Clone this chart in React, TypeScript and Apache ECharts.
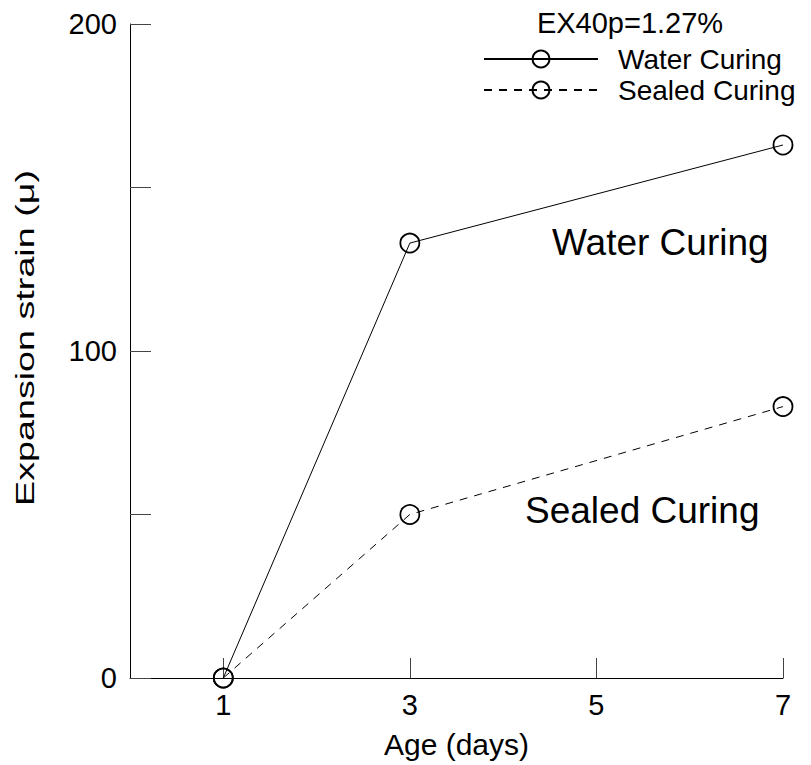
import React, { useEffect, useRef } from "react";
import * as echarts from "echarts";

const ages = [1, 3, 7];
const waterCuring = [0, 133, 163];
const sealedCuring = [0, 50, 83];
const xTickValues = [1, 3, 5, 7];
const yLabelValues = [0, 100, 200];
const seriesNames = ["Water Curing", "Sealed Curing"];
const legendTitle = "EX40p=1.27%";
const xAxisName = "Age (days)";
const yAxisName = "Expansion strain (\u03bc)";

const FONT = "'Liberation Sans', Arial, Helvetica, sans-serif";

export default function App() {
  const ref = useRef<HTMLDivElement>(null);
  useEffect(() => {
    const chart = echarts.init(ref.current!, null, { renderer: "svg" });
    const mk = (name: string, values: number[], dashed: boolean) => ({
      name,
      type: "line",
      data: ages.map((a, i) => [a, values[i]]),
      symbol: "circle",
      symbolSize: 19,
      itemStyle: { color: "rgba(255,255,255,0)", borderColor: "#000", borderWidth: 1.8 },
      lineStyle: { color: "#000", width: 1, type: dashed ? [8, 7] : "solid" },
      emphasis: { disabled: true },
      z: 3,
    });
    chart.setOption({
      animation: false,
      backgroundColor: "#fff",
      textStyle: { fontFamily: FONT, color: "#000" },
      grid: { left: 130, right: 28, top: 24, bottom: 87, containLabel: false, outerBoundsMode: "none" },
      legend: {
        orient: "vertical",
        left: 483,
        top: 45,
        padding: 0,
        itemGap: 3,
        itemWidth: 114,
        itemHeight: 21,
        selectedMode: false,
        data: seriesNames,
        textStyle: { fontSize: 28, fontFamily: FONT, color: "#000", padding: [0, 0, 0, 15] },
      },
      xAxis: {
        type: "value",
        min: 0,
        max: 7,
        interval: 1,
        name: xAxisName,
        nameLocation: "middle",
        nameGap: 51,
        nameTextStyle: { fontSize: 30, fontFamily: FONT, color: "#000" },
        axisLine: { show: true, onZero: false, lineStyle: { color: "#000", width: 1 } },
        axisTick: { show: true, inside: true, length: 20, customValues: xTickValues, lineStyle: { color: "#444", width: 1 } },
        axisLabel: { show: true, margin: 12, fontSize: 29, fontFamily: FONT, color: "#000", customValues: xTickValues },
        splitLine: { show: false },
      },
      yAxis: {
        type: "value",
        min: 0,
        max: 200,
        interval: 50,
        axisLine: { show: true, onZero: false, lineStyle: { color: "#000", width: 1 } },
        axisTick: { show: true, inside: true, length: 21, lineStyle: { color: "#444", width: 1 } },
        axisLabel: {
          show: true,
          margin: 13,
          fontSize: 29,
          fontFamily: FONT,
          color: "#000",
          formatter: (v: number) => (yLabelValues.indexOf(v) >= 0 ? String(v) : ""),
        },
        splitLine: { show: false },
      },
      graphic: [
        {
          type: "text",
          x: 630,
          y: 23,
          style: { text: legendTitle, font: `29px ${FONT}`, fill: "#000", align: "center", verticalAlign: "middle", textAlign: "center", textVerticalAlign: "middle" },
        },
        {
          type: "text",
          x: 552,
          y: 242,
          style: { text: seriesNames[0], font: `37px ${FONT}`, fill: "#000", align: "left", verticalAlign: "middle", textAlign: "left", textVerticalAlign: "middle" },
        },
        {
          type: "text",
          x: 525,
          y: 510,
          style: { text: seriesNames[1], font: `37px ${FONT}`, fill: "#000", align: "left", verticalAlign: "middle", textAlign: "left", textVerticalAlign: "middle" },
        },
        {
          type: "text",
          x: 25,
          y: 338,
          rotation: Math.PI / 2,
          scaleX: 1.45,
          scaleY: 1,
          style: { text: yAxisName, font: `26px ${FONT}`, fill: "#000", align: "center", verticalAlign: "middle", textAlign: "center", textVerticalAlign: "middle" },
        },
      ],
      series: [mk(seriesNames[0], waterCuring, false), mk(seriesNames[1], sealedCuring, true)],
    });
    return () => chart.dispose();
  }, []);
  return <div ref={ref} style={{ position: "fixed", left: 0, top: 0, width: 811, height: 765 }} />;
}
